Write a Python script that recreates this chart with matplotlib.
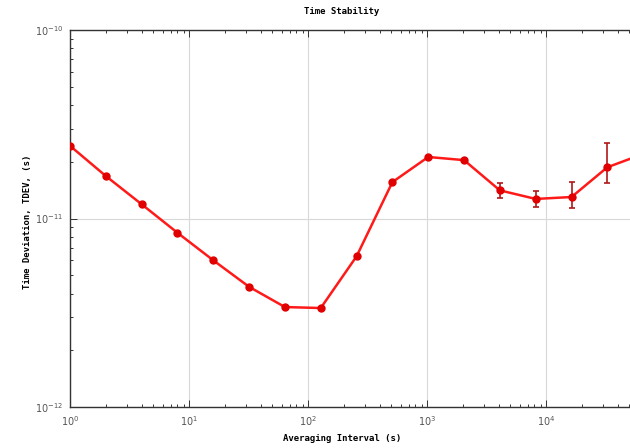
import matplotlib
matplotlib.use('Agg')
import matplotlib.pyplot as plt
from matplotlib.ticker import LogLocator, NullFormatter

# averaging intervals (s) and TDEV values (s)
tau = [1, 2, 4, 8, 16, 32, 64, 128, 256, 512, 1024, 2048,
       4096, 8192, 16384, 32768, 65536]
tdev = [2.43e-11, 1.68e-11, 1.19e-11, 8.4e-12, 6.0e-12, 4.34e-12, 3.39e-12,
        3.35e-12, 6.3e-12, 1.56e-11, 2.12e-11, 2.04e-11,
        1.41e-11, 1.27e-11, 1.30e-11, 1.87e-11, 2.2e-11]
err_lo = [0, 0, 0, 0, 0, 0, 0, 0, 0, 0, 0, 0,
          0.13e-11, 0.12e-11, 0.16e-11, 0.33e-11, 0.5e-11]
err_hi = [0, 0, 0, 0, 0, 0, 0, 0, 0, 0, 0, 0,
          0.13e-11, 0.13e-11, 0.26e-11, 0.64e-11, 0.8e-11]
xticks = [1, 10, 100, 1000, 10000]
yticks = [1e-12, 1e-11, 1e-10]

plt.rcParams['mathtext.fontset'] = 'stix'

fig = plt.figure(figsize=(6.3, 4.48), dpi=100)
ax = fig.add_axes([70/630, 41/448, 595/630, 377/448])

ax.errorbar(tau, tdev, yerr=[err_lo, err_hi], fmt='none', ecolor='#b01818',
            elinewidth=1.2, capsize=2.5, capthick=1.2, zorder=2)
ax.plot(tau, tdev, color='#ff1a1a', lw=1.8, marker='o', ms=5,
        mfc='#e00000', mec='#e00000', zorder=3)

ax.set_xscale('log')
ax.set_yscale('log')
ax.set_xlim(1, 1e5)
ax.set_ylim(1e-12, 1e-10)
ax.set_xticks(xticks)
ax.set_yticks(yticks)

ax.grid(True, which='major', color='#d8d8d8', lw=0.8)
ax.axvline(1e5, color='#d8d8d8', lw=0.8)
ax.xaxis.set_minor_locator(LogLocator(base=10, subs=range(2, 10)))
ax.yaxis.set_minor_locator(LogLocator(base=10, subs=range(2, 10)))
ax.xaxis.set_minor_formatter(NullFormatter())
ax.yaxis.set_minor_formatter(NullFormatter())
ax.tick_params(which='both', direction='in', top=True, right=True,
               labelsize=7, width=0.7, colors='#333333', labelcolor='#555555')
ax.tick_params(which='major', length=5, pad=5)
ax.tick_params(which='minor', length=2.5)
for s in ax.spines.values():
    s.set_linewidth(1.0)
    s.set_color('#333333')

fig.text(342/630, 1 - 12/448, 'Time Stability', ha='center', va='center',
         family='DejaVu Sans Mono', weight='bold', fontsize=6.5)
fig.text(342/630, 1 - 438/448, 'Averaging Interval (s)', ha='center',
         va='center', family='DejaVu Sans Mono', weight='bold', fontsize=6.5)
fig.text(28/630, 1 - 222/448, 'Time Deviation, TDEV, (s)', ha='center',
         va='center', rotation=90, family='DejaVu Sans Mono', weight='bold',
         fontsize=6.5)

fig.savefig('out.png', dpi=100)
